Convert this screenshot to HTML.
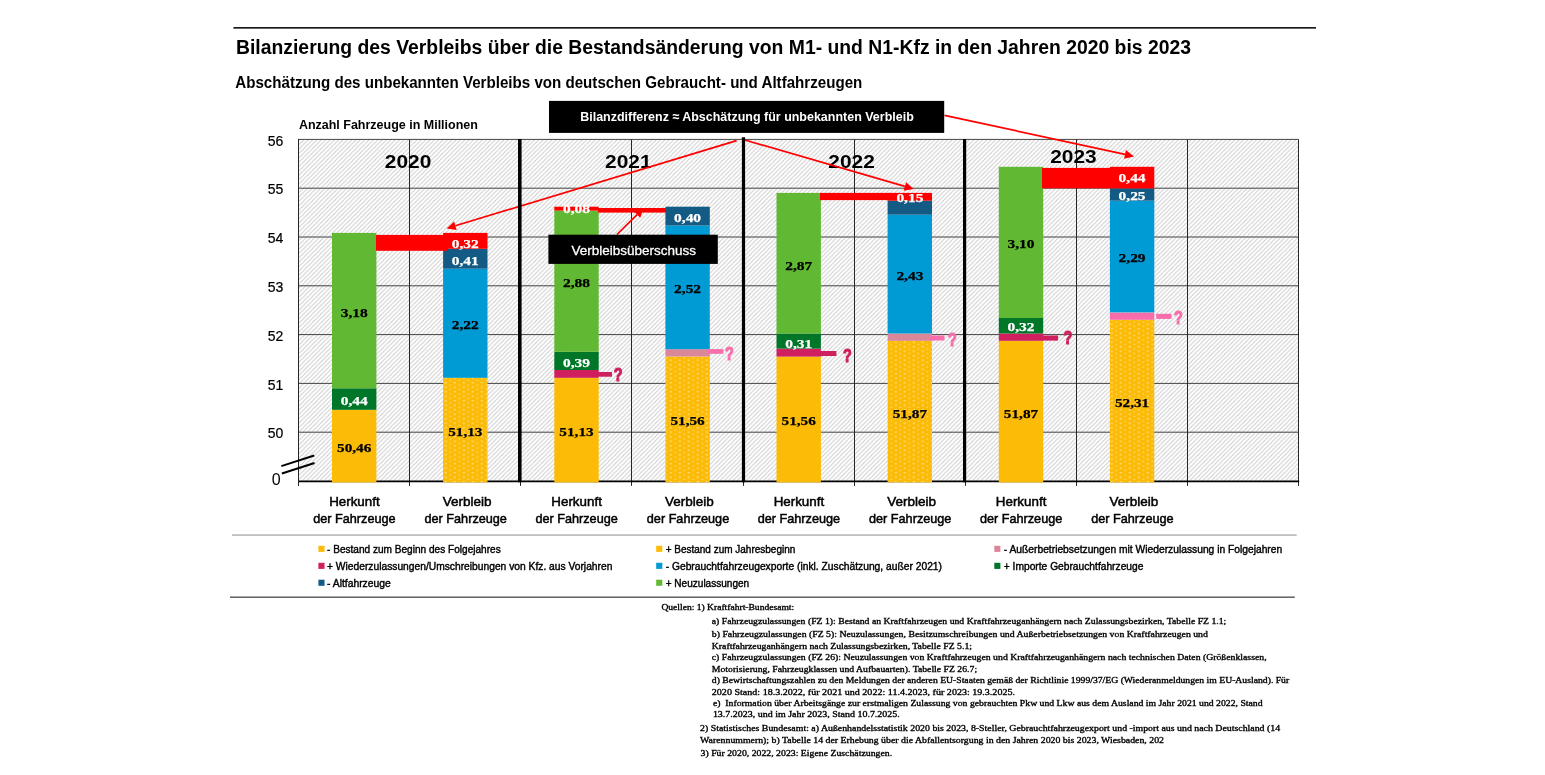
<!DOCTYPE html>
<html lang="de">
<head>
<meta charset="utf-8">
<title>Bilanzierung des Verbleibs über die Bestandsänderung von M1- und N1-Kfz</title>
<style>
html,body{margin:0;padding:0;background:#fff;}
body{width:1545px;height:775px;position:relative;overflow:hidden;font-family:"Liberation Sans", sans-serif;}
svg text{white-space:pre;}
</style>
</head>
<body>
<svg width="1545" height="775" viewBox="0 0 1545 775" style="position:absolute;left:0;top:0">
<defs>
<pattern id="hatch" width="4.35" height="4.35" patternUnits="userSpaceOnUse">
<rect width="4.35" height="4.35" fill="#fff"/>
<path d="M-1.0875,1.0875 L1.0875,-1.0875 M0,4.35 L4.35,0 M3.2625,5.4375 L5.4375,3.2625" stroke="#c9c9c9" stroke-width="0.9"/>
</pattern>
<pattern id="dots" width="9" height="4.5" patternUnits="userSpaceOnUse" x="665.6" y="341.5">
<rect width="9" height="4.5" fill="#FBBB06"/>
<rect x="4.6" y="0.2" width="1.15" height="1.15" fill="#fff"/>
<rect x="0.1" y="2.45" width="1.15" height="1.15" fill="#fff" opacity="0.6"/>
</pattern>
</defs>
<rect x="233.4" y="27.1" width="1082.6" height="1.5" fill="#000" />
<text x="236.0" y="53.7" font-family='"Liberation Sans", sans-serif' font-size="19.6" font-weight="bold" fill="#000" text-anchor="start" textLength="955.0" lengthAdjust="spacingAndGlyphs" >Bilanzierung des Verbleibs über die Bestandsänderung von M1- und N1-Kfz in den Jahren 2020 bis 2023</text>
<text x="235.3" y="87.8" font-family='"Liberation Sans", sans-serif' font-size="16.9" font-weight="bold" fill="#000" text-anchor="start" textLength="627.0" lengthAdjust="spacingAndGlyphs" >Abschätzung des unbekannten Verbleibs von deutschen Gebraucht- und Altfahrzeugen</text>
<text x="298.9" y="128.7" font-family='"Liberation Sans", sans-serif' font-size="13" font-weight="bold" fill="#000" text-anchor="start" textLength="179.0" lengthAdjust="spacingAndGlyphs" >Anzahl Fahrzeuge in Millionen</text>
<rect x="298.6" y="139.4" width="1000.1" height="342.0" fill="url(#hatch)" />
<line x1="298.6" y1="139.4" x2="1298.7" y2="139.4" stroke="#3a3a3a" stroke-width="0.95"/>
<line x1="298.6" y1="188.2" x2="1298.7" y2="188.2" stroke="#3a3a3a" stroke-width="0.95"/>
<line x1="298.6" y1="237.0" x2="1298.7" y2="237.0" stroke="#3a3a3a" stroke-width="0.95"/>
<line x1="298.6" y1="285.8" x2="1298.7" y2="285.8" stroke="#3a3a3a" stroke-width="0.95"/>
<line x1="298.6" y1="334.6" x2="1298.7" y2="334.6" stroke="#3a3a3a" stroke-width="0.95"/>
<line x1="298.6" y1="383.4" x2="1298.7" y2="383.4" stroke="#3a3a3a" stroke-width="0.95"/>
<line x1="298.6" y1="432.2" x2="1298.7" y2="432.2" stroke="#3a3a3a" stroke-width="0.95"/>
<line x1="298.5" y1="139.4" x2="298.5" y2="485.9" stroke="#262626" stroke-width="1"/>
<line x1="409.5" y1="139.4" x2="409.5" y2="485.9" stroke="#262626" stroke-width="1"/>
<line x1="520.5" y1="481.4" x2="520.5" y2="485.9" stroke="#222" stroke-width="1"/>
<line x1="631.5" y1="139.4" x2="631.5" y2="485.9" stroke="#262626" stroke-width="1"/>
<line x1="743.5" y1="481.4" x2="743.5" y2="485.9" stroke="#222" stroke-width="1"/>
<line x1="854.5" y1="139.4" x2="854.5" y2="485.9" stroke="#262626" stroke-width="1"/>
<line x1="965.5" y1="481.4" x2="965.5" y2="485.9" stroke="#222" stroke-width="1"/>
<line x1="1076.5" y1="139.4" x2="1076.5" y2="485.9" stroke="#262626" stroke-width="1"/>
<line x1="1187.5" y1="139.4" x2="1187.5" y2="485.9" stroke="#262626" stroke-width="1"/>
<line x1="1298.5" y1="139.4" x2="1298.5" y2="485.9" stroke="#262626" stroke-width="1"/>
<text x="283.3" y="145.6" font-family='"Liberation Sans", sans-serif' font-size="14.2" font-weight="normal" fill="#000" text-anchor="end" textLength="15.6" lengthAdjust="spacingAndGlyphs" stroke="#000" stroke-width="0.2">56</text>
<text x="283.3" y="194.4" font-family='"Liberation Sans", sans-serif' font-size="14.2" font-weight="normal" fill="#000" text-anchor="end" textLength="15.6" lengthAdjust="spacingAndGlyphs" stroke="#000" stroke-width="0.2">55</text>
<text x="283.3" y="243.2" font-family='"Liberation Sans", sans-serif' font-size="14.2" font-weight="normal" fill="#000" text-anchor="end" textLength="15.6" lengthAdjust="spacingAndGlyphs" stroke="#000" stroke-width="0.2">54</text>
<text x="283.3" y="292.0" font-family='"Liberation Sans", sans-serif' font-size="14.2" font-weight="normal" fill="#000" text-anchor="end" textLength="15.6" lengthAdjust="spacingAndGlyphs" stroke="#000" stroke-width="0.2">53</text>
<text x="283.3" y="340.8" font-family='"Liberation Sans", sans-serif' font-size="14.2" font-weight="normal" fill="#000" text-anchor="end" textLength="15.6" lengthAdjust="spacingAndGlyphs" stroke="#000" stroke-width="0.2">52</text>
<text x="283.3" y="389.6" font-family='"Liberation Sans", sans-serif' font-size="14.2" font-weight="normal" fill="#000" text-anchor="end" textLength="15.6" lengthAdjust="spacingAndGlyphs" stroke="#000" stroke-width="0.2">51</text>
<text x="283.3" y="438.4" font-family='"Liberation Sans", sans-serif' font-size="14.2" font-weight="normal" fill="#000" text-anchor="end" textLength="15.6" lengthAdjust="spacingAndGlyphs" stroke="#000" stroke-width="0.2">50</text>
<text x="280.6" y="484.7" font-family='"Liberation Sans", sans-serif' font-size="16" font-weight="normal" fill="#000" text-anchor="end" >0</text>
<line x1="298.1" y1="481.4" x2="1299.2" y2="481.4" stroke="#000" stroke-width="1.6"/>
<rect x="332.0" y="409.8" width="44.4" height="72.6" fill="#FBBB06" />
<rect x="332.0" y="388.3" width="44.4" height="21.5" fill="#007628" />
<rect x="332.0" y="232.9" width="44.4" height="155.4" fill="#61B832" />
<rect x="443.1" y="377.8" width="44.4" height="104.6" fill="url(#dots)" />
<rect x="443.1" y="268.7" width="44.4" height="109.1" fill="#009AD4" />
<rect x="443.1" y="248.8" width="44.4" height="19.9" fill="#135B84" />
<rect x="443.1" y="232.9" width="44.4" height="15.9" fill="#FF0000" />
<rect x="554.3" y="377.8" width="44.4" height="104.6" fill="#FBBB06" />
<rect x="554.3" y="370.0" width="44.4" height="7.8" fill="#CF1F5E" />
<rect x="554.3" y="351.8" width="44.4" height="18.2" fill="#007628" />
<rect x="554.3" y="210.6" width="44.4" height="141.2" fill="#61B832" />
<rect x="554.3" y="206.7" width="44.4" height="3.9" fill="#FF0000" />
<rect x="665.4" y="356.5" width="44.4" height="125.9" fill="url(#dots)" />
<rect x="665.4" y="349.2" width="44.4" height="7.3" fill="#D98799" />
<rect x="665.4" y="225.5" width="44.4" height="123.7" fill="#009AD4" />
<rect x="665.4" y="206.7" width="44.4" height="18.8" fill="#135B84" />
<rect x="776.5" y="356.6" width="44.4" height="125.8" fill="#FBBB06" />
<rect x="776.5" y="348.6" width="44.4" height="8.0" fill="#CF1F5E" />
<rect x="776.5" y="333.5" width="44.4" height="15.1" fill="#007628" />
<rect x="776.5" y="192.9" width="44.4" height="140.6" fill="#61B832" />
<rect x="887.6" y="340.8" width="44.4" height="141.6" fill="url(#dots)" />
<rect x="887.6" y="333.5" width="44.4" height="7.3" fill="#D98799" />
<rect x="887.6" y="214.7" width="44.4" height="118.8" fill="#009AD4" />
<rect x="887.6" y="200.7" width="44.4" height="14.0" fill="#135B84" />
<rect x="887.6" y="192.9" width="44.4" height="7.8" fill="#FF0000" />
<rect x="998.8" y="340.8" width="44.4" height="141.6" fill="#FBBB06" />
<rect x="998.8" y="333.5" width="44.4" height="7.3" fill="#CF1F5E" />
<rect x="998.8" y="318.0" width="44.4" height="15.5" fill="#007628" />
<rect x="998.8" y="166.8" width="44.4" height="151.2" fill="#61B832" />
<rect x="1109.9" y="319.8" width="44.4" height="162.6" fill="url(#dots)" />
<rect x="1109.9" y="312.6" width="44.4" height="7.2" fill="#F76EAB" />
<rect x="1109.9" y="200.7" width="44.4" height="111.7" fill="#009AD4" />
<rect x="1109.9" y="188.4" width="44.4" height="12.3" fill="#135B84" />
<rect x="1109.9" y="166.8" width="44.4" height="21.6" fill="#FF0000" />
<rect x="376.0" y="234.9" width="72.0" height="15.9" fill="#FF0000" />
<rect x="598.0" y="208.0" width="68.0" height="4.6" fill="#FF0000" />
<rect x="820.0" y="192.9" width="70.0" height="7.2" fill="#FF0000" />
<rect x="1042.0" y="167.9" width="70.0" height="20.4" fill="#FF0000" />
<rect x="598.0" y="372.0" width="14.0" height="4.7" fill="#CF1F5E" />
<rect x="708.0" y="349.1" width="15.4" height="4.7" fill="#F76EAB" />
<rect x="820.0" y="351.0" width="16.4" height="5.0" fill="#CF1F5E" />
<rect x="930.0" y="335.5" width="14.5" height="5.0" fill="#F76EAB" />
<rect x="1042.0" y="335.5" width="16.1" height="5.1" fill="#CF1F5E" />
<rect x="1156.2" y="313.8" width="15.3" height="5.1" fill="#F76EAB" />
<line x1="298.5" y1="138.9" x2="298.5" y2="485.9" stroke="#262626" stroke-width="1"/>
<line x1="281.3" y1="466.1" x2="314.2" y2="455.5" stroke="#000" stroke-width="2"/>
<line x1="281.9" y1="473.5" x2="314.5" y2="463" stroke="#000" stroke-width="2"/>
<text x="408.1" y="167.8" font-family='"Liberation Sans", sans-serif' font-size="18.2" font-weight="bold" fill="#000" text-anchor="middle" textLength="46.5" lengthAdjust="spacingAndGlyphs" >2020</text>
<text x="628.3" y="167.8" font-family='"Liberation Sans", sans-serif' font-size="18.2" font-weight="bold" fill="#000" text-anchor="middle" textLength="46.5" lengthAdjust="spacingAndGlyphs" >2021</text>
<text x="851.6" y="168.1" font-family='"Liberation Sans", sans-serif' font-size="18.2" font-weight="bold" fill="#000" text-anchor="middle" textLength="46.5" lengthAdjust="spacingAndGlyphs" >2022</text>
<text x="1073.5" y="162.8" font-family='"Liberation Sans", sans-serif' font-size="18.2" font-weight="bold" fill="#000" text-anchor="middle" textLength="46.5" lengthAdjust="spacingAndGlyphs" >2023</text>
<line x1="736.6" y1="140.6" x2="455.4" y2="225.7" stroke="#FF0000" stroke-width="1.7"/>
<polygon points="446.6,228.4 454.1,221.5 456.7,229.9" fill="#FF0000"/>
<line x1="741.5" y1="139.0" x2="904.9" y2="186.4" stroke="#FF0000" stroke-width="1.7"/>
<polygon points="913.7,189.0 903.6,190.7 906.1,182.2" fill="#FF0000"/>
<line x1="944.5" y1="115.3" x2="1125.0" y2="154.4" stroke="#FF0000" stroke-width="1.7"/>
<polygon points="1134.0,156.4 1124.1,158.8 1125.9,150.1" fill="#FF0000"/>
<line x1="616.9" y1="234.5" x2="637.1" y2="214.6" stroke="#FF0000" stroke-width="1.7"/>
<polygon points="643.7,208.2 640.2,217.8 634.1,211.5" fill="#FF0000"/>
<line x1="519.8" y1="138.9" x2="519.8" y2="482.2" stroke="#000" stroke-width="3.6"/>
<line x1="743.5" y1="137.2" x2="743.5" y2="482.2" stroke="#000" stroke-width="3.2"/>
<line x1="964.6" y1="138.9" x2="964.6" y2="482.2" stroke="#000" stroke-width="3.2"/>
<rect x="549.0" y="100.9" width="395.2" height="32.0" fill="#000" />
<text x="580.2" y="121.1" font-family='"Liberation Sans", sans-serif' font-size="13.4" font-weight="bold" fill="#fff" text-anchor="start" textLength="333.6" lengthAdjust="spacingAndGlyphs" >Bilanzdifferenz ≈ Abschätzung für unbekannten Verbleib</text>
<rect x="548.4" y="234.7" width="169.4" height="29.2" fill="#000" />
<text x="571.4" y="254.5" font-family='"Liberation Sans", sans-serif' font-size="13.6" font-weight="normal" fill="#fff" text-anchor="start" textLength="124.5" lengthAdjust="spacingAndGlyphs" stroke="#fff" stroke-width="0.3">Verbleibsüberschuss</text>
<text x="354.2" y="451.6" font-family='"Liberation Serif", serif' font-size="12.9" font-weight="bold" fill="#000" text-anchor="middle" textLength="34.3" lengthAdjust="spacingAndGlyphs" stroke="#000" stroke-width="0.25">50,46</text>
<text x="354.2" y="405.0" font-family='"Liberation Serif", serif' font-size="12.9" font-weight="bold" fill="#fff" text-anchor="middle" textLength="27.0" lengthAdjust="spacingAndGlyphs" stroke="#fff" stroke-width="0.25">0,44</text>
<text x="354.2" y="317.0" font-family='"Liberation Serif", serif' font-size="12.9" font-weight="bold" fill="#000" text-anchor="middle" textLength="27.0" lengthAdjust="spacingAndGlyphs" stroke="#000" stroke-width="0.25">3,18</text>
<text x="465.3" y="436.0" font-family='"Liberation Serif", serif' font-size="12.9" font-weight="bold" fill="#000" text-anchor="middle" textLength="34.3" lengthAdjust="spacingAndGlyphs" stroke="#000" stroke-width="0.25">51,13</text>
<text x="465.3" y="329.0" font-family='"Liberation Serif", serif' font-size="12.9" font-weight="bold" fill="#000" text-anchor="middle" textLength="27.0" lengthAdjust="spacingAndGlyphs" stroke="#000" stroke-width="0.25">2,22</text>
<text x="465.3" y="265.0" font-family='"Liberation Serif", serif' font-size="12.9" font-weight="bold" fill="#fff" text-anchor="middle" textLength="27.0" lengthAdjust="spacingAndGlyphs" stroke="#fff" stroke-width="0.25">0,41</text>
<text x="465.3" y="247.6" font-family='"Liberation Serif", serif' font-size="12.9" font-weight="bold" fill="#fff" text-anchor="middle" textLength="27.0" lengthAdjust="spacingAndGlyphs" stroke="#fff" stroke-width="0.25">0,32</text>
<text x="576.5" y="436.0" font-family='"Liberation Serif", serif' font-size="12.9" font-weight="bold" fill="#000" text-anchor="middle" textLength="34.3" lengthAdjust="spacingAndGlyphs" stroke="#000" stroke-width="0.25">51,13</text>
<text x="576.5" y="367.0" font-family='"Liberation Serif", serif' font-size="12.9" font-weight="bold" fill="#fff" text-anchor="middle" textLength="27.0" lengthAdjust="spacingAndGlyphs" stroke="#fff" stroke-width="0.25">0,39</text>
<text x="576.5" y="286.9" font-family='"Liberation Serif", serif' font-size="12.9" font-weight="bold" fill="#000" text-anchor="middle" textLength="27.0" lengthAdjust="spacingAndGlyphs" stroke="#000" stroke-width="0.25">2,88</text>
<text x="576.5" y="213.4" font-family='"Liberation Serif", serif' font-size="12.9" font-weight="bold" fill="#fff" text-anchor="middle" textLength="27.0" lengthAdjust="spacingAndGlyphs" stroke="#fff" stroke-width="0.25">0,08</text>
<text x="687.6" y="424.5" font-family='"Liberation Serif", serif' font-size="12.9" font-weight="bold" fill="#000" text-anchor="middle" textLength="34.3" lengthAdjust="spacingAndGlyphs" stroke="#000" stroke-width="0.25">51,56</text>
<text x="687.6" y="292.6" font-family='"Liberation Serif", serif' font-size="12.9" font-weight="bold" fill="#000" text-anchor="middle" textLength="27.0" lengthAdjust="spacingAndGlyphs" stroke="#000" stroke-width="0.25">2,52</text>
<text x="687.6" y="222.0" font-family='"Liberation Serif", serif' font-size="12.9" font-weight="bold" fill="#fff" text-anchor="middle" textLength="27.0" lengthAdjust="spacingAndGlyphs" stroke="#fff" stroke-width="0.25">0,40</text>
<text x="798.7" y="424.5" font-family='"Liberation Serif", serif' font-size="12.9" font-weight="bold" fill="#000" text-anchor="middle" textLength="34.3" lengthAdjust="spacingAndGlyphs" stroke="#000" stroke-width="0.25">51,56</text>
<text x="798.7" y="347.5" font-family='"Liberation Serif", serif' font-size="12.9" font-weight="bold" fill="#fff" text-anchor="middle" textLength="27.0" lengthAdjust="spacingAndGlyphs" stroke="#fff" stroke-width="0.25">0,31</text>
<text x="798.7" y="270.0" font-family='"Liberation Serif", serif' font-size="12.9" font-weight="bold" fill="#000" text-anchor="middle" textLength="27.0" lengthAdjust="spacingAndGlyphs" stroke="#000" stroke-width="0.25">2,87</text>
<text x="909.9" y="417.5" font-family='"Liberation Serif", serif' font-size="12.9" font-weight="bold" fill="#000" text-anchor="middle" textLength="34.3" lengthAdjust="spacingAndGlyphs" stroke="#000" stroke-width="0.25">51,87</text>
<text x="909.9" y="280.0" font-family='"Liberation Serif", serif' font-size="12.9" font-weight="bold" fill="#000" text-anchor="middle" textLength="27.0" lengthAdjust="spacingAndGlyphs" stroke="#000" stroke-width="0.25">2,43</text>
<text x="909.9" y="202.1" font-family='"Liberation Serif", serif' font-size="12.9" font-weight="bold" fill="#fff" text-anchor="middle" textLength="27.0" lengthAdjust="spacingAndGlyphs" stroke="#fff" stroke-width="0.25">0,15</text>
<text x="1021.0" y="417.5" font-family='"Liberation Serif", serif' font-size="12.9" font-weight="bold" fill="#000" text-anchor="middle" textLength="34.3" lengthAdjust="spacingAndGlyphs" stroke="#000" stroke-width="0.25">51,87</text>
<text x="1021.0" y="330.8" font-family='"Liberation Serif", serif' font-size="12.9" font-weight="bold" fill="#fff" text-anchor="middle" textLength="27.0" lengthAdjust="spacingAndGlyphs" stroke="#fff" stroke-width="0.25">0,32</text>
<text x="1021.0" y="248.0" font-family='"Liberation Serif", serif' font-size="12.9" font-weight="bold" fill="#000" text-anchor="middle" textLength="27.0" lengthAdjust="spacingAndGlyphs" stroke="#000" stroke-width="0.25">3,10</text>
<text x="1132.1" y="406.5" font-family='"Liberation Serif", serif' font-size="12.9" font-weight="bold" fill="#000" text-anchor="middle" textLength="34.3" lengthAdjust="spacingAndGlyphs" stroke="#000" stroke-width="0.25">52,31</text>
<text x="1132.1" y="262.0" font-family='"Liberation Serif", serif' font-size="12.9" font-weight="bold" fill="#000" text-anchor="middle" textLength="27.0" lengthAdjust="spacingAndGlyphs" stroke="#000" stroke-width="0.25">2,29</text>
<text x="1132.1" y="199.5" font-family='"Liberation Serif", serif' font-size="12.9" font-weight="bold" fill="#fff" text-anchor="middle" textLength="27.0" lengthAdjust="spacingAndGlyphs" stroke="#fff" stroke-width="0.25">0,25</text>
<text x="1132.1" y="182.3" font-family='"Liberation Serif", serif' font-size="12.9" font-weight="bold" fill="#fff" text-anchor="middle" textLength="27.0" lengthAdjust="spacingAndGlyphs" stroke="#fff" stroke-width="0.25">0,44</text>
<text x="613.8" y="381.0" font-family='"Liberation Sans", sans-serif' font-size="18.5" font-weight="bold" fill="#CF1F5E" text-anchor="start" textLength="8.8" lengthAdjust="spacingAndGlyphs" stroke="#CF1F5E" stroke-width="1.1">?</text>
<text x="725.0" y="359.6" font-family='"Liberation Sans", sans-serif' font-size="18.5" font-weight="bold" fill="#F76EAB" text-anchor="start" textLength="8.8" lengthAdjust="spacingAndGlyphs" stroke="#F76EAB" stroke-width="1.1">?</text>
<text x="843.0" y="361.5" font-family='"Liberation Sans", sans-serif' font-size="18.5" font-weight="bold" fill="#CF1F5E" text-anchor="start" textLength="8.8" lengthAdjust="spacingAndGlyphs" stroke="#CF1F5E" stroke-width="1.1">?</text>
<text x="948.0" y="345.6" font-family='"Liberation Sans", sans-serif' font-size="18.5" font-weight="bold" fill="#F76EAB" text-anchor="start" textLength="8.8" lengthAdjust="spacingAndGlyphs" stroke="#F76EAB" stroke-width="1.1">?</text>
<text x="1063.5" y="343.8" font-family='"Liberation Sans", sans-serif' font-size="18.5" font-weight="bold" fill="#CF1F5E" text-anchor="start" textLength="8.8" lengthAdjust="spacingAndGlyphs" stroke="#CF1F5E" stroke-width="1.1">?</text>
<text x="1174.0" y="324.2" font-family='"Liberation Sans", sans-serif' font-size="18.5" font-weight="bold" fill="#F76EAB" text-anchor="start" textLength="8.8" lengthAdjust="spacingAndGlyphs" stroke="#F76EAB" stroke-width="1.1">?</text>
<text x="354.4" y="506.1" font-family='"Liberation Sans", sans-serif' font-size="13.4" font-weight="normal" fill="#000" text-anchor="middle" textLength="50.5" lengthAdjust="spacingAndGlyphs" stroke="#000" stroke-width="0.5">Herkunft</text>
<text x="354.4" y="523.0" font-family='"Liberation Sans", sans-serif' font-size="13.4" font-weight="normal" fill="#000" text-anchor="middle" textLength="82.4" lengthAdjust="spacingAndGlyphs" stroke="#000" stroke-width="0.5">der Fahrzeuge</text>
<text x="467.1" y="506.1" font-family='"Liberation Sans", sans-serif' font-size="13.4" font-weight="normal" fill="#000" text-anchor="middle" textLength="48.7" lengthAdjust="spacingAndGlyphs" stroke="#000" stroke-width="0.5">Verbleib</text>
<text x="465.7" y="523.0" font-family='"Liberation Sans", sans-serif' font-size="13.4" font-weight="normal" fill="#000" text-anchor="middle" textLength="82.4" lengthAdjust="spacingAndGlyphs" stroke="#000" stroke-width="0.5">der Fahrzeuge</text>
<text x="576.6" y="506.1" font-family='"Liberation Sans", sans-serif' font-size="13.4" font-weight="normal" fill="#000" text-anchor="middle" textLength="50.5" lengthAdjust="spacingAndGlyphs" stroke="#000" stroke-width="0.5">Herkunft</text>
<text x="576.6" y="523.0" font-family='"Liberation Sans", sans-serif' font-size="13.4" font-weight="normal" fill="#000" text-anchor="middle" textLength="82.4" lengthAdjust="spacingAndGlyphs" stroke="#000" stroke-width="0.5">der Fahrzeuge</text>
<text x="689.4" y="506.1" font-family='"Liberation Sans", sans-serif' font-size="13.4" font-weight="normal" fill="#000" text-anchor="middle" textLength="48.7" lengthAdjust="spacingAndGlyphs" stroke="#000" stroke-width="0.5">Verbleib</text>
<text x="688.0" y="523.0" font-family='"Liberation Sans", sans-serif' font-size="13.4" font-weight="normal" fill="#000" text-anchor="middle" textLength="82.4" lengthAdjust="spacingAndGlyphs" stroke="#000" stroke-width="0.5">der Fahrzeuge</text>
<text x="798.9" y="506.1" font-family='"Liberation Sans", sans-serif' font-size="13.4" font-weight="normal" fill="#000" text-anchor="middle" textLength="50.5" lengthAdjust="spacingAndGlyphs" stroke="#000" stroke-width="0.5">Herkunft</text>
<text x="798.9" y="523.0" font-family='"Liberation Sans", sans-serif' font-size="13.4" font-weight="normal" fill="#000" text-anchor="middle" textLength="82.4" lengthAdjust="spacingAndGlyphs" stroke="#000" stroke-width="0.5">der Fahrzeuge</text>
<text x="911.6" y="506.1" font-family='"Liberation Sans", sans-serif' font-size="13.4" font-weight="normal" fill="#000" text-anchor="middle" textLength="48.7" lengthAdjust="spacingAndGlyphs" stroke="#000" stroke-width="0.5">Verbleib</text>
<text x="910.2" y="523.0" font-family='"Liberation Sans", sans-serif' font-size="13.4" font-weight="normal" fill="#000" text-anchor="middle" textLength="82.4" lengthAdjust="spacingAndGlyphs" stroke="#000" stroke-width="0.5">der Fahrzeuge</text>
<text x="1021.1" y="506.1" font-family='"Liberation Sans", sans-serif' font-size="13.4" font-weight="normal" fill="#000" text-anchor="middle" textLength="50.5" lengthAdjust="spacingAndGlyphs" stroke="#000" stroke-width="0.5">Herkunft</text>
<text x="1021.1" y="523.0" font-family='"Liberation Sans", sans-serif' font-size="13.4" font-weight="normal" fill="#000" text-anchor="middle" textLength="82.4" lengthAdjust="spacingAndGlyphs" stroke="#000" stroke-width="0.5">der Fahrzeuge</text>
<text x="1133.8" y="506.1" font-family='"Liberation Sans", sans-serif' font-size="13.4" font-weight="normal" fill="#000" text-anchor="middle" textLength="48.7" lengthAdjust="spacingAndGlyphs" stroke="#000" stroke-width="0.5">Verbleib</text>
<text x="1132.4" y="523.0" font-family='"Liberation Sans", sans-serif' font-size="13.4" font-weight="normal" fill="#000" text-anchor="middle" textLength="82.4" lengthAdjust="spacingAndGlyphs" stroke="#000" stroke-width="0.5">der Fahrzeuge</text>
<rect x="232.0" y="534.6" width="1064.7" height="0.9" fill="#808080" />
<rect x="230.0" y="596.5" width="1064.8" height="1.4" fill="#555" />
<rect x="318.4" y="545.8" width="6.1" height="6.1" fill="#FBBB06" />
<text x="327.0" y="553.0" font-family='"Liberation Sans", sans-serif' font-size="10.4" font-weight="normal" fill="#000" text-anchor="start" textLength="173.7" lengthAdjust="spacingAndGlyphs" stroke="#000" stroke-width="0.4">- Bestand zum Beginn des Folgejahres</text>
<rect x="318.4" y="562.8" width="6.1" height="6.1" fill="#CF1F5E" />
<text x="327.0" y="570.0" font-family='"Liberation Sans", sans-serif' font-size="10.4" font-weight="normal" fill="#000" text-anchor="start" textLength="285.4" lengthAdjust="spacingAndGlyphs" stroke="#000" stroke-width="0.4">+ Wiederzulassungen/Umschreibungen von Kfz. aus Vorjahren</text>
<rect x="318.4" y="579.7" width="6.1" height="6.1" fill="#135B84" />
<text x="327.0" y="586.9" font-family='"Liberation Sans", sans-serif' font-size="10.4" font-weight="normal" fill="#000" text-anchor="start" textLength="63.8" lengthAdjust="spacingAndGlyphs" stroke="#000" stroke-width="0.4">- Altfahrzeuge</text>
<rect x="656.2" y="545.8" width="6.1" height="6.1" fill="#FBBB06" />
<text x="665.7" y="553.0" font-family='"Liberation Sans", sans-serif' font-size="10.4" font-weight="normal" fill="#000" text-anchor="start" textLength="129.6" lengthAdjust="spacingAndGlyphs" stroke="#000" stroke-width="0.4">+ Bestand zum Jahresbeginn</text>
<rect x="656.2" y="562.8" width="6.1" height="6.1" fill="#009AD4" />
<text x="665.7" y="570.0" font-family='"Liberation Sans", sans-serif' font-size="10.4" font-weight="normal" fill="#000" text-anchor="start" textLength="276.3" lengthAdjust="spacingAndGlyphs" stroke="#000" stroke-width="0.4">- Gebrauchtfahrzeugexporte (inkl. Zuschätzung, außer 2021)</text>
<rect x="656.2" y="579.7" width="6.1" height="6.1" fill="#61B832" />
<text x="665.7" y="586.9" font-family='"Liberation Sans", sans-serif' font-size="10.4" font-weight="normal" fill="#000" text-anchor="start" textLength="83.5" lengthAdjust="spacingAndGlyphs" stroke="#000" stroke-width="0.4">+ Neuzulassungen</text>
<rect x="994.3" y="545.8" width="6.1" height="6.1" fill="#D98799" />
<text x="1003.8" y="553.0" font-family='"Liberation Sans", sans-serif' font-size="10.4" font-weight="normal" fill="#000" text-anchor="start" textLength="278.4" lengthAdjust="spacingAndGlyphs" stroke="#000" stroke-width="0.4">- Außerbetriebsetzungen mit Wiederzulassung in Folgejahren</text>
<rect x="994.3" y="562.8" width="6.1" height="6.1" fill="#007628" />
<text x="1003.8" y="570.0" font-family='"Liberation Sans", sans-serif' font-size="10.4" font-weight="normal" fill="#000" text-anchor="start" textLength="139.6" lengthAdjust="spacingAndGlyphs" stroke="#000" stroke-width="0.4">+ Importe Gebrauchtfahrzeuge</text>
<text x="661.4" y="610.2" font-family='"Liberation Serif", serif' font-size="8.3" font-weight="normal" fill="#000" text-anchor="start" textLength="132.8" lengthAdjust="spacingAndGlyphs" stroke="#000" stroke-width="0.33">Quellen: 1) Kraftfahrt-Bundesamt:</text>
<text x="711.8" y="623.7" font-family='"Liberation Serif", serif' font-size="8.3" font-weight="normal" fill="#000" text-anchor="start" textLength="514.5" lengthAdjust="spacingAndGlyphs" stroke="#000" stroke-width="0.33">a) Fahrzeugzulassungen (FZ 1): Bestand an Kraftfahrzeugen und Kraftfahrzeuganhängern nach Zulassungsbezirken, Tabelle FZ 1.1;</text>
<text x="711.8" y="637.4" font-family='"Liberation Serif", serif' font-size="8.3" font-weight="normal" fill="#000" text-anchor="start" textLength="496.1" lengthAdjust="spacingAndGlyphs" stroke="#000" stroke-width="0.33">b) Fahrzeugzulassungen (FZ 5): Neuzulassungen, Besitzumschreibungen und Außerbetriebsetzungen von Kraftfahrzeugen und</text>
<text x="711.8" y="648.6" font-family='"Liberation Serif", serif' font-size="8.3" font-weight="normal" fill="#000" text-anchor="start" textLength="260.2" lengthAdjust="spacingAndGlyphs" stroke="#000" stroke-width="0.33">Kraftfahrzeuganhängern nach Zulassungsbezirken, Tabelle FZ 5.1;</text>
<text x="711.8" y="660.0" font-family='"Liberation Serif", serif' font-size="8.3" font-weight="normal" fill="#000" text-anchor="start" textLength="554.8" lengthAdjust="spacingAndGlyphs" stroke="#000" stroke-width="0.33">c) Fahrzeugzulassungen (FZ 26): Neuzulassungen von Kraftfahrzeugen und Kraftfahrzeuganhängern nach technischen Daten (Größenklassen,</text>
<text x="711.8" y="671.9" font-family='"Liberation Serif", serif' font-size="8.3" font-weight="normal" fill="#000" text-anchor="start" textLength="265.3" lengthAdjust="spacingAndGlyphs" stroke="#000" stroke-width="0.33">Motorisierung, Fahrzeugklassen und Aufbauarten). Tabelle FZ 26.7;</text>
<text x="711.8" y="682.9" font-family='"Liberation Serif", serif' font-size="8.3" font-weight="normal" fill="#000" text-anchor="start" textLength="577.4" lengthAdjust="spacingAndGlyphs" stroke="#000" stroke-width="0.33">d) Bewirtschaftungszahlen zu den Meldungen der anderen EU-Staaten gemäß der Richtlinie 1999/37/EG (Wiederanmeldungen im EU-Ausland). Für</text>
<text x="711.8" y="694.5" font-family='"Liberation Serif", serif' font-size="8.3" font-weight="normal" fill="#000" text-anchor="start" textLength="303.2" lengthAdjust="spacingAndGlyphs" stroke="#000" stroke-width="0.33">2020 Stand: 18.3.2022, für 2021 und 2022: 11.4.2023, für 2023: 19.3.2025.</text>
<text x="712.9" y="705.9" font-family='"Liberation Serif", serif' font-size="8.3" font-weight="normal" fill="#000" text-anchor="start" textLength="549.7" lengthAdjust="spacingAndGlyphs" stroke="#000" stroke-width="0.33">e)  Information über Arbeitsgänge zur erstmaligen Zulassung von gebrauchten Pkw und Lkw aus dem Ausland im Jahr 2021 und 2022, Stand</text>
<text x="712.9" y="716.9" font-family='"Liberation Serif", serif' font-size="8.3" font-weight="normal" fill="#000" text-anchor="start" textLength="186.9" lengthAdjust="spacingAndGlyphs" stroke="#000" stroke-width="0.33">13.7.2023, und im Jahr 2023, Stand 10.7.2025.</text>
<text x="700.1" y="730.9" font-family='"Liberation Serif", serif' font-size="8.3" font-weight="normal" fill="#000" text-anchor="start" textLength="580.0" lengthAdjust="spacingAndGlyphs" stroke="#000" stroke-width="0.33">2) Statistisches Bundesamt: a) Außenhandelsstatistik 2020 bis 2023, 8-Steller, Gebrauchtfahrzeugexport und -import aus und nach Deutschland (14</text>
<text x="700.1" y="743.0" font-family='"Liberation Serif", serif' font-size="8.3" font-weight="normal" fill="#000" text-anchor="start" textLength="463.9" lengthAdjust="spacingAndGlyphs" stroke="#000" stroke-width="0.33">Warennummern); b) Tabelle 14 der Erhebung über die Abfallentsorgung in den Jahren 2020 bis 2023, Wiesbaden, 202</text>
<text x="700.6" y="756.3" font-family='"Liberation Serif", serif' font-size="8.3" font-weight="normal" fill="#000" text-anchor="start" textLength="191.5" lengthAdjust="spacingAndGlyphs" stroke="#000" stroke-width="0.33">3) Für 2020, 2022, 2023: Eigene Zuschätzungen.</text>
</svg>
</body>
</html>
